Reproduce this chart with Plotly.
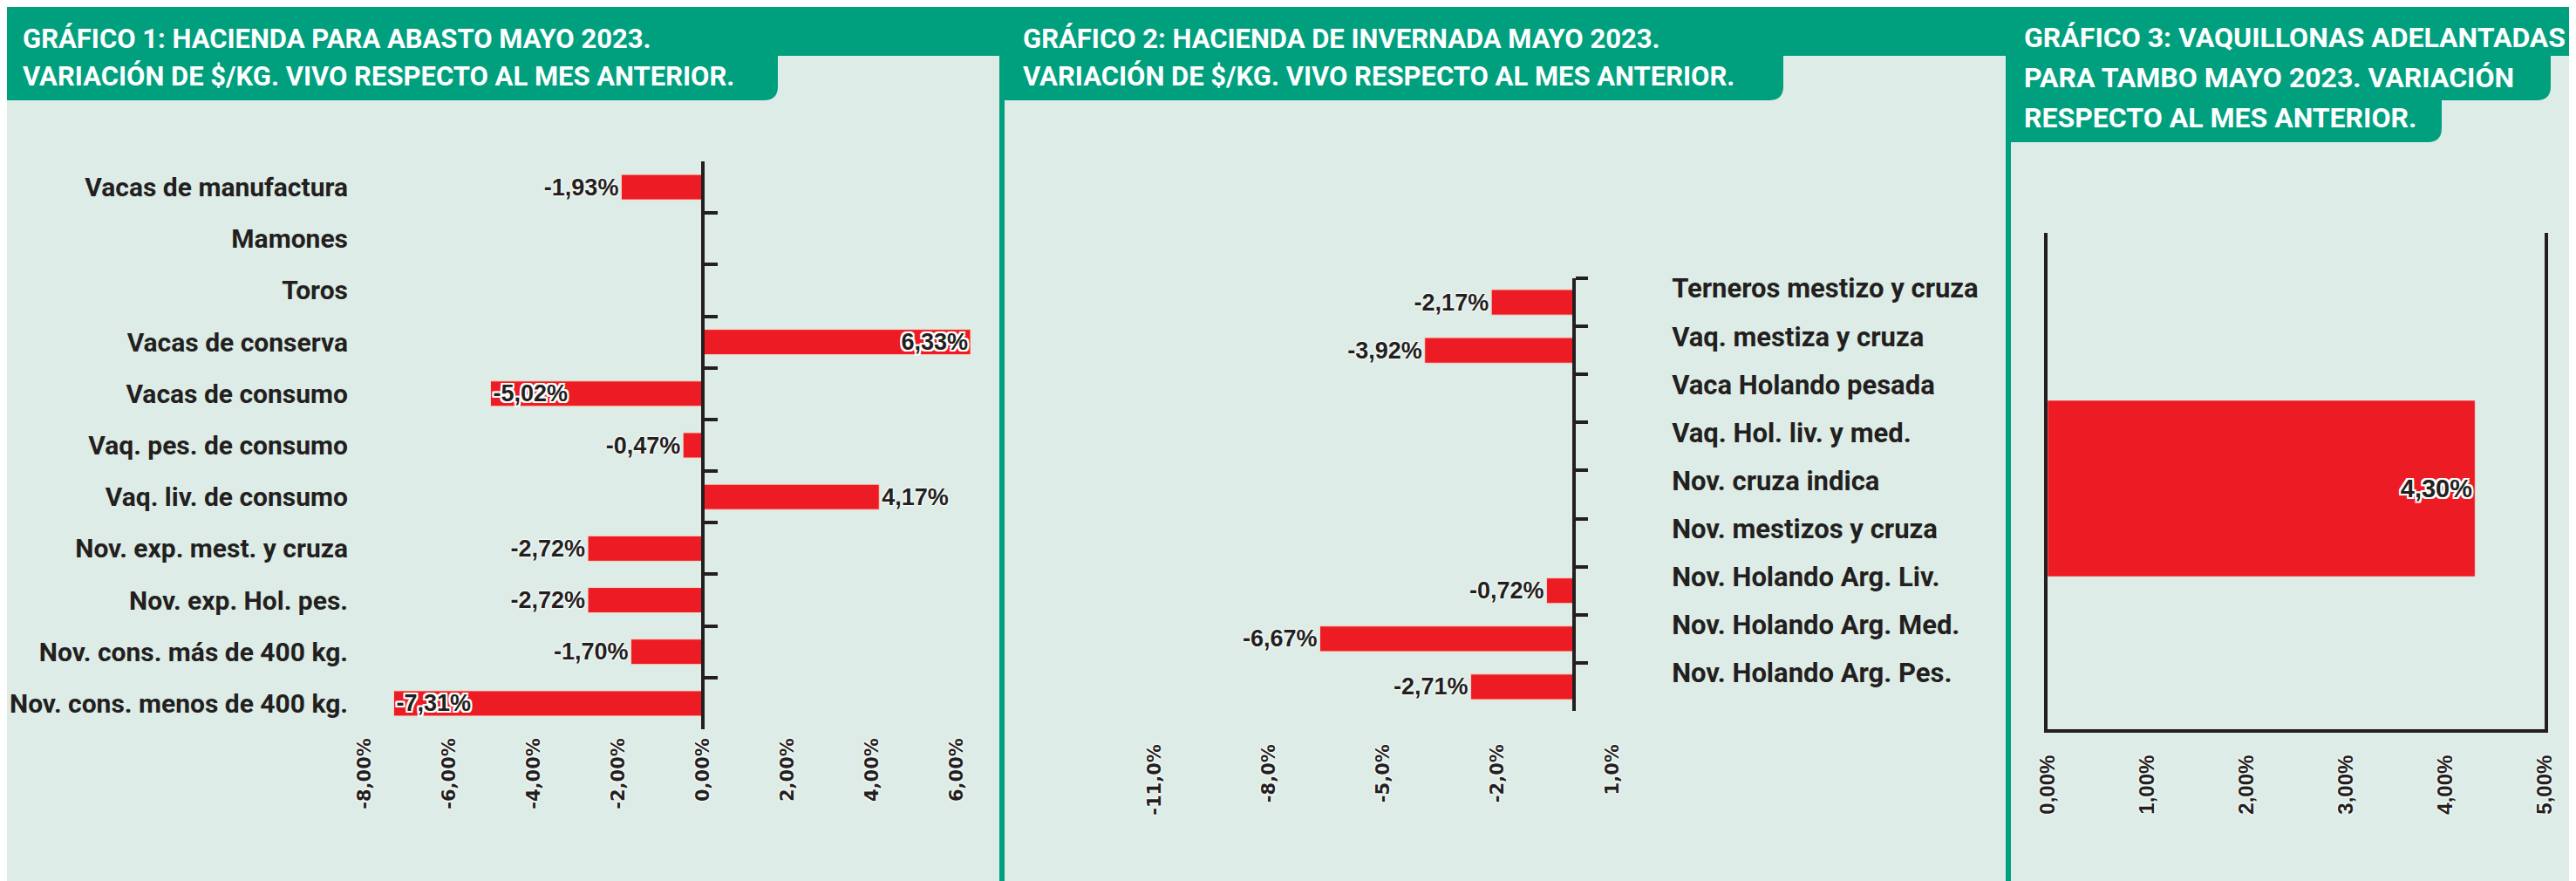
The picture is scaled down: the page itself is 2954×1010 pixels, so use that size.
import plotly.graph_objects as go

W, H = 2954, 1010

# ---------------- DATA ----------------
p1_categories = [
    "Vacas de manufactura", "Mamones", "Toros", "Vacas de conserva",
    "Vacas de consumo", "Vaq. pes. de consumo", "Vaq. liv. de consumo",
    "Nov. exp. mest. y cruza", "Nov. exp. Hol. pes.",
    "Nov. cons. más de 400 kg.", "Nov. cons. menos de 400 kg.",
]
p1_values = [-1.93, None, None, 6.33, -5.02, -0.47, 4.17, -2.72, -2.72, -1.70, -7.31]
p1_label_pos = ["outside", "none", "none", "inside", "inside", "outside",
                "outside", "outside", "outside", "outside", "inside"]
p1_tickvals = [-8, -6, -4, -2, 0, 2, 4, 6]
p1_ticktext = ["-8,00%", "-6,00%", "-4,00%", "-2,00%", "0,00%", "2,00%", "4,00%", "6,00%"]

p2_categories = [
    "Terneros mestizo y cruza", "Vaq. mestiza y cruza", "Vaca Holando pesada",
    "Vaq. Hol. liv. y med.", "Nov. cruza indica", "Nov. mestizos y cruza",
    "Nov. Holando Arg. Liv.", "Nov. Holando Arg. Med.", "Nov. Holando Arg. Pes.",
]
p2_values = [-2.17, -3.92, None, None, None, None, -0.72, -6.67, -2.71]
p2_tickvals = [-11, -8, -5, -2, 1]
p2_ticktext = ["-11,0%", "-8,0%", "-5,0%", "-2,0%", "1,0%"]

p3_categories = ["Vaquillonas adelantadas para tambo"]
p3_values = [4.30]
p3_tickvals = [0, 1, 2, 3, 4, 5]
p3_ticktext = ["0,00%", "1,00%", "2,00%", "3,00%", "4,00%", "5,00%"]

title1_lines = ["GRÁFICO 1: HACIENDA PARA ABASTO MAYO 2023.",
                "VARIACIÓN DE $/KG. VIVO RESPECTO AL MES ANTERIOR."]
title2_lines = ["GRÁFICO 2: HACIENDA DE INVERNADA MAYO 2023.",
                "VARIACIÓN DE $/KG. VIVO RESPECTO AL MES ANTERIOR."]
title3_lines = ["GRÁFICO 3: VAQUILLONAS ADELANTADAS",
                "PARA TAMBO MAYO 2023. VARIACIÓN",
                "RESPECTO AL MES ANTERIOR."]

# ---------------- STYLE ----------------
BG = "#DDECE6"
GREEN = "#00A07F"
RED = "#ED1C24"
DARK = "#231F20"
NARROW = "Roboto, Liberation Sans, sans-serif"
SANS = "Liberation Sans, Arial, sans-serif"
DEJAVU = "DejaVu Sans, Verdana, sans-serif"
OUTLINE = ", ".join(f"{dx}px {dy}px 0 #ffffff" for dx, dy in
                    [(-2, 0), (2, 0), (0, -2), (0, 2), (-2, -2), (2, -2), (-2, 2), (2, 2)])
SOFT = "0 0 3px #ffffff, 0 0 3px #ffffff, 0 0 2px #ffffff"


def fx(px):
    return px / W


def fy(py):
    return 1 - py / H


def fmt(v):
    return "" if v is None else f"{v:.2f}".replace(".", ",") + "%"


fig = go.Figure()

# ---------- Panel 1 ----------
fig.add_trace(go.Bar(
    x=p1_values, y=p1_categories, orientation="h", xaxis="x", yaxis="y",
    marker=dict(color=RED, line=dict(color="#F3D9C8", width=1)), width=0.49,
    text=[fmt(v) for v in p1_values], textposition=p1_label_pos,
    insidetextanchor="end", constraintext="none", cliponaxis=False,
    insidetextfont=dict(family=SANS, size=27, color=DARK, weight=700, shadow=OUTLINE),
    outsidetextfont=dict(family=SANS, size=27, color=DARK, weight=700, shadow=SOFT),
    hoverinfo="skip", showlegend=False,
))

# ---------- Panel 2 ----------
fig.add_trace(go.Bar(
    x=p2_values, y=p2_categories, orientation="h", xaxis="x2", yaxis="y2",
    marker=dict(color=RED, line=dict(color="#F3D9C8", width=1)), width=0.53,
    text=[fmt(v) for v in p2_values], textposition="outside",
    constraintext="none", cliponaxis=False,
    outsidetextfont=dict(family=SANS, size=27, color=DARK, weight=700, shadow=SOFT),
    hoverinfo="skip", showlegend=False,
))

# ---------- Panel 3 ----------
fig.add_trace(go.Bar(
    x=p3_values, y=p3_categories, orientation="h", xaxis="x3", yaxis="y3",
    marker=dict(color=RED), width=0.355,
    text=[fmt(v) for v in p3_values], textposition="inside",
    insidetextanchor="end", constraintext="none",
    insidetextfont=dict(family=SANS, size=29, color=DARK, weight=700, shadow=OUTLINE),
    hoverinfo="skip", showlegend=False,
))

# ---------- Axes geometry (pixels) ----------
p1_zero, p1_scale = 798, 48.5
p1_range = [-8.3, 6.4]
p2_zero, p2_scale = 1797, 43.7
p2_range = [-11.4, 1.3]

xtick_font = dict(family=DEJAVU, size=21, color=DARK, weight=700, shadow=SOFT)

fig.update_layout(
    width=W, height=H, margin=dict(l=0, r=0, t=0, b=0, autoexpand=False),
    paper_bgcolor=BG, plot_bgcolor="rgba(0,0,0,0)",
    bargap=0.5,
    xaxis=dict(
        domain=[fx(p1_zero + p1_range[0] * p1_scale), fx(p1_zero + p1_range[1] * p1_scale)],
        range=p1_range, anchor="y", showgrid=False, zeroline=False, showline=False,
        tickmode="array", tickvals=p1_tickvals, ticktext=p1_ticktext, tickangle=-90,
        tickfont=xtick_font, ticks="", ticklabelstandoff=5, fixedrange=True,
        automargin=False,
    ),
    yaxis=dict(
        domain=[fy(828), fy(177)], type="category",
        categoryorder="array", categoryarray=p1_categories,
        range=[len(p1_categories) - 0.5, -0.5],
        anchor="free", position=fx(p1_zero), side="left",
        showline=True, linewidth=4, linecolor=DARK, showgrid=False, zeroline=False,
        ticks="inside", ticklen=15, tickwidth=4, tickcolor=DARK, tickson="boundaries",
        tickfont=dict(family=NARROW, size=30, color=DARK, weight=700),
        ticklabelstandoff=399, fixedrange=True, automargin=False,
    ),
    xaxis2=dict(
        domain=[fx(p2_zero + p2_range[0] * p2_scale), fx(p2_zero + p2_range[1] * p2_scale)],
        range=p2_range, anchor="y2", showgrid=False, zeroline=False, showline=False,
        tickmode="array", tickvals=p2_tickvals, ticktext=p2_ticktext, tickangle=-90,
        tickfont=xtick_font, ticks="", ticklabelstandoff=33, fixedrange=True,
        automargin=False,
    ),
    yaxis2=dict(
        domain=[fy(807), fy(311)], type="category",
        categoryorder="array", categoryarray=p2_categories,
        range=[len(p2_categories) - 0.5, -0.5],
        anchor="free", position=fx(p2_zero), side="right",
        showline=True, linewidth=4, linecolor=DARK, showgrid=False, zeroline=False,
        ticks="outside", ticklen=14, tickwidth=4, tickcolor=DARK, tickson="boundaries",
        tickfont=dict(family=NARROW, size=31, color=DARK, weight=700),
        ticklabelstandoff=104, ticklabelshift=16, fixedrange=True, automargin=False,
    ),
    xaxis3=dict(
        domain=[fx(2340), fx(2910)], range=[0, 5], anchor="y3",
        showgrid=False, zeroline=False, showline=True, linewidth=4, linecolor=DARK,
        tickmode="array", tickvals=p3_tickvals, ticktext=p3_ticktext, tickangle=-90,
        tickfont=dict(family=SANS, size=24, color=DARK, weight=700, shadow=SOFT),
        ticks="", ticklabelstandoff=16, fixedrange=True, automargin=False,
    ),
    yaxis3=dict(
        domain=[fy(828), fy(259)], type="category", anchor="x3",
        range=[-0.485, 0.515], showline=True, mirror=True, linewidth=4, linecolor=DARK,
        showgrid=False, zeroline=False, ticks="", showticklabels=False, fixedrange=True,
        automargin=False,
    ),
)

# ---------- Header decoration ----------
shapes = []


def tab(x0, x1, y0, y1, r=16):
    return (f"M {fx(x0)},{fy(y0)} L {fx(x1)},{fy(y0)} L {fx(x1)},{fy(y1 - r)} "
            f"Q {fx(x1)},{fy(y1)} {fx(x1 - r)},{fy(y1)} L {fx(x0)},{fy(y1)} Z")


shapes.append(dict(type="rect", xref="paper", yref="paper", x0=0, x1=1, y0=fy(56), y1=1,
                   fillcolor=GREEN, line=dict(width=0), layer="below"))
for x0, x1, y0, y1 in [(0, 884, 54, 107), (1141, 2037, 54, 107),
                       (2295, 2917, 54, 107), (2295, 2792, 105, 155)]:
    shapes.append(dict(type="path", xref="paper", yref="paper", path=tab(x0, x1, y0, y1),
                       fillcolor=GREEN, line=dict(width=0), layer="below"))
for xc in [1141, 2295]:
    shapes.append(dict(type="rect", xref="paper", yref="paper", x0=fx(xc - 3), x1=fx(xc + 3),
                       y0=0, y1=1, fillcolor=GREEN, line=dict(width=0), layer="below"))
fig.update_layout(shapes=shapes)

title_specs = [(title1_lines, 16, 31, [36, 80]),
               (title2_lines, 1163, 31, [36, 80]),
               (title3_lines, 2311, 32, [35, 81, 127])]
for lines, xpx, size, ys in title_specs:
    for line, ypx in zip(lines, ys):
        fig.add_annotation(text=line, xref="paper", yref="paper", x=fx(xpx), y=fy(ypx),
                           xanchor="left", yanchor="middle", align="left", showarrow=False,
                           font=dict(family=NARROW, size=size, color="#ffffff", weight=700))

fig.write_html("out.html")
